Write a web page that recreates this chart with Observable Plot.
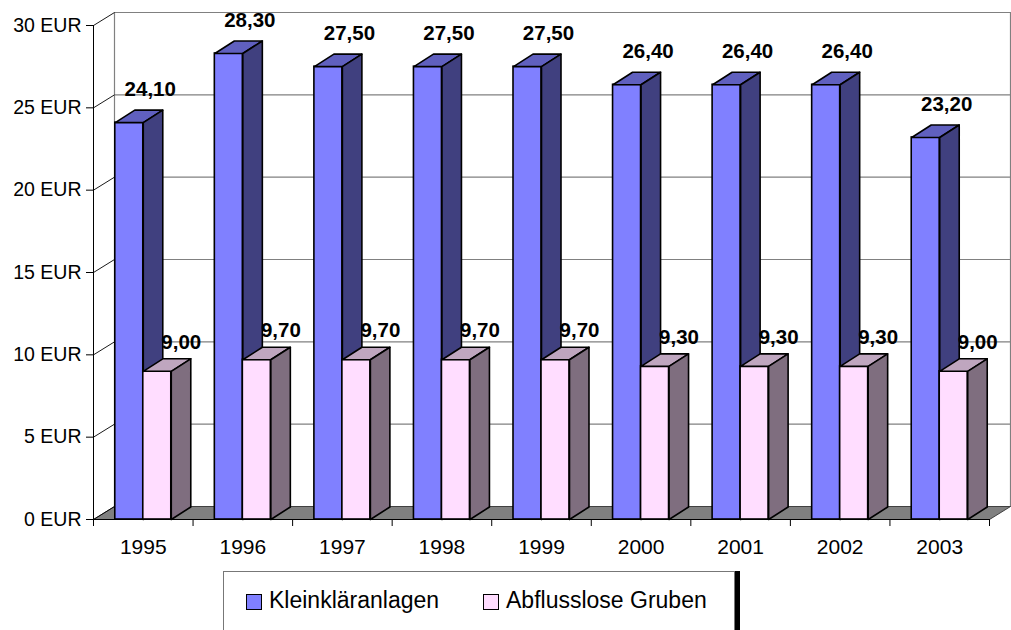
<!DOCTYPE html>
<html>
<head>
<meta charset="utf-8">
<script src="https://cdn.jsdelivr.net/npm/d3@7"></script>
<script src="https://cdn.jsdelivr.net/npm/@observablehq/plot@0.6"></script>
<style>
  html, body { margin: 0; padding: 0; background: #fff; }
  body { width: 1011px; height: 630px; overflow: hidden; position: relative; font-family: "Liberation Sans", Arial, sans-serif; }
  #chart svg g[aria-label="y-axis tick label"],
  #chart svg g[aria-label="y-axis tick label"] text { font-size: 19.5px !important; }
  #legend {
    position: absolute; left: 223px; top: 571px; width: 512px; height: 62px;
    box-sizing: border-box; border: 1px solid #777; background: #fff;
    box-shadow: 5px 0 0 #000;
    display: flex; align-items: center; font-size: 23px; color: #000;
  }
  #legend .item { display: flex; align-items: center; position: absolute; top: 15px; }
  #legend .sw { width: 14px; height: 14px; border: 1px solid #000; margin-right: 7px; margin-top: 2px; }
</style>
</head>
<body>
<div id="chart"></div>
<div id="legend"></div>
<script>
// ---- data ----
const years = ["1995", "1996", "1997", "1998", "1999", "2000", "2001", "2002", "2003"];
const klein = [24.10, 28.30, 27.50, 27.50, 27.50, 26.40, 26.40, 26.40, 23.20];
const gruben = [9.00, 9.70, 9.70, 9.70, 9.70, 9.30, 9.30, 9.30, 9.00];
const seriesNames = ["Kleinkläranlagen", "Abflusslose Gruben"];
const yTicks = [0, 5, 10, 15, 20, 25, 30];

// ---- layout ----
const width = 1011, height = 565;
const mLeft = 93, plotRight = 989, mTop = 25, baseY = 519;
const n = years.length, yMax = 30;
const pxX = (plotRight - mLeft) / n;          // px per category
const pxY = (baseY - mTop) / yMax;            // px per EUR
const W = 28 / pxX;                            // bar width (data units)
const dxB = 19.5 / pxX, dyB = 12.5 / pxY;     // bar depth
const dxW = 21 / pxX, dyW = 13 / pxY;         // wall depth

const colors = {
  blue: {front: "#8080FF", top: "#6060BF", side: "#40407F"},
  pink: {front: "#FFDDFF", top: "#BFA6BF", side: "#7F6E7F"}
};

function build(values, leftOffset) {
  const fronts = [], tops = [], sides = [];
  values.forEach((v, i) => {
    const x0 = i + 0.5 + leftOffset, x1 = x0 + W;
    fronts.push({x0, x1, v});
    [[x0, v], [x1, v], [x1 + dxB, v + dyB], [x0 + dxB, v + dyB], [x0, v]]
      .forEach(([x, y]) => tops.push({id: i, x, y}));
    [[x1, 0], [x1, v], [x1 + dxB, v + dyB], [x1 + dxB, dyB], [x1, 0]]
      .forEach(([x, y]) => sides.push({id: i, x, y}));
  });
  return {fronts, tops, sides};
}
const B = build(klein, -W);
const P = build(gruben, 0);

const floor = [[0, 0], [n, 0], [n + dxW, dyW], [dxW, dyW], [0, 0]].map(([x, y]) => ({x, y}));
const wall = [[dxW, dyW], [n + dxW, dyW], [n + dxW, yMax + dyW], [dxW, yMax + dyW], [dxW, dyW]].map(([x, y]) => ({x, y}));
const fmt = d => d.toFixed(2).replace(".", ",");

function barMarks(S, c) {
  return [
    Plot.rect(S.fronts, {x1: "x0", x2: "x1", y1: 0, y2: "v", fill: c.front, stroke: "black", strokeWidth: 1.6}),
    Plot.line(S.tops, {x: "x", y: "y", z: "id", fill: c.top, stroke: "black", strokeWidth: 1.6, strokeLinejoin: "round"}),
    Plot.line(S.sides, {x: "x", y: "y", z: "id", fill: c.side, stroke: "black", strokeWidth: 1.6, strokeLinejoin: "round"})
  ];
}

const chart = Plot.plot({
  width, height,
  marginLeft: mLeft, marginRight: width - plotRight, marginTop: mTop, marginBottom: height - baseY,
  style: {fontFamily: "'Liberation Sans', Arial, sans-serif", background: "white", overflow: "visible", color: "black"},
  x: {type: "linear", domain: [0, n], axis: null},
  y: {type: "linear", domain: [0, yMax], axis: null},
  marks: [
    // back wall
    Plot.line(wall, {x: "x", y: "y", fill: "white", stroke: "#808080", strokeWidth: 1.2}),
    Plot.ruleY(yTicks, {y: d => d + dyW, x1: dxW, x2: n + dxW, stroke: "#808080", strokeWidth: 1.2}),
    // floor
    Plot.line(floor, {x: "x", y: "y", fill: "#808080", stroke: "#404040", strokeWidth: 1}),
    // left wall slant lines
    Plot.link(yTicks, {x1: 0, y1: d => d, x2: dxW, y2: d => d + dyW, stroke: "black", strokeWidth: 0.9}),
    // axes lines
    Plot.ruleX([0], {y1: 0, y2: yMax, stroke: "black", strokeWidth: 1}),
    Plot.ruleY([0], {x1: 0, x2: n, stroke: "black", strokeWidth: 1}),
    Plot.axisY({ticks: yTicks, tickSize: 7, tickPadding: 5, tickFormat: d => `${d} EUR`, fontSize: 19.5, label: null, stroke: "black", strokeOpacity: 1}),
    Plot.axisX({ticks: d3.range(n + 1), tickSize: 7, tickFormat: () => "", label: null, stroke: "black", strokeOpacity: 1}),
    Plot.text(years, {x: (d, i) => i + 0.5, y: 0, dy: 28, text: d => d, fontSize: 21, letterSpacing: 0.3}),
    // bars
    ...barMarks(B, colors.blue),
    ...barMarks(P, colors.pink),
    // value labels
    Plot.text(klein, {x: (d, i) => i + 0.5 - W / 2, y: d => d, text: fmt, dx: 21, dy: -33, fontSize: 20.5, fontWeight: "bold", ariaLabel: "vlab"}),
    Plot.text(gruben, {x: (d, i) => i + 0.5 + W / 2, y: d => d, text: fmt, dx: 24, dy: -29, fontSize: 20.5, fontWeight: "bold", ariaLabel: "vlab"})
  ]
});
document.getElementById("chart").appendChild(chart);

// white boxes behind value labels
chart.querySelectorAll('g[aria-label="vlab"] text').forEach(t => {
  const b = t.getBBox();
  const r = document.createElementNS("http://www.w3.org/2000/svg", "rect");
  r.setAttribute("x", b.x - 2);
  r.setAttribute("y", b.y + 1);
  r.setAttribute("width", b.width + 4);
  r.setAttribute("height", b.height - 2);
  r.setAttribute("fill", "white");
  r.setAttribute("stroke", "none");
  if (t.getAttribute("transform")) r.setAttribute("transform", t.getAttribute("transform"));
  t.parentNode.insertBefore(r, t);
});

// legend
const legend = document.getElementById("legend");
const swColors = [colors.blue.front, colors.pink.front];
const lefts = [22, 259];
seriesNames.forEach((name, i) => {
  const item = document.createElement("div");
  item.className = "item";
  item.style.left = lefts[i] + "px";
  const sw = document.createElement("div");
  sw.className = "sw";
  sw.style.background = swColors[i];
  const label = document.createElement("span");
  label.textContent = name;
  item.appendChild(sw);
  item.appendChild(label);
  legend.appendChild(item);
});
</script>
</body>
</html>
